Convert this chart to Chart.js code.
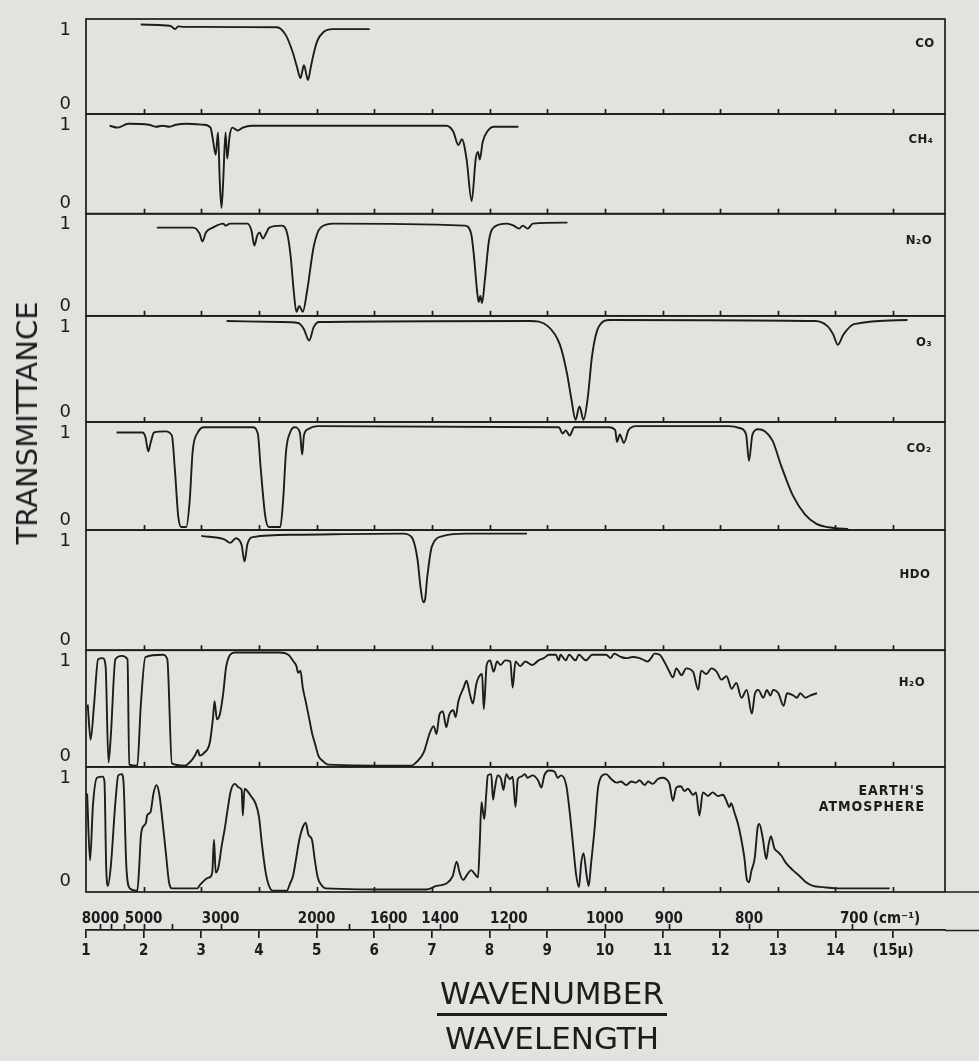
<!DOCTYPE html>
<html>
<head>
<meta charset="utf-8">
<script src="https://cdn.jsdelivr.net/npm/chart.js@4.4.1/dist/chart.umd.min.js"></script>
<style>
  html, body { margin: 0; padding: 0; background: #e2e2df; }
  #wrap { position: relative; width: 979px; height: 1061px; overflow: hidden; }
  #c { position: absolute; left: 0; top: 0; }
  #ylab { position: absolute; left: 27px; top: 423px; transform: translate(-50%, -50%) rotate(-90deg);
          font: 29px "DejaVu Sans", sans-serif; color: #1c1c1c; white-space: nowrap; }
  #frac { position: absolute; left: 552px; top: 976px; transform: translateX(-50%); text-align: center;
          font: 31px "DejaVu Sans", sans-serif; color: #1c1c1c; }
  #frac .num { line-height: 34px; padding: 0 3px 3px; border-bottom: 3px solid #1c1c1c; }
  #frac .den { line-height: 34px; padding-top: 5px; }
</style>
</head>
<body>
<div id="wrap">
  <canvas id="c" width="979" height="1061"></canvas>
  <div id="ylab">TRANSMITTANCE</div>
  <div id="frac"><div class="num">WAVENUMBER</div><div class="den">WAVELENGTH</div></div>
</div>
<script>
// ---------- axis ticks ----------
const wavelengthTicks  = [1,2,3,4,5,6,7,8,9,10,11,12,13,14,15];
const wavelengthLabels = ['1','2','3','4','5','6','7','8','9','10','11','12','13','14','(15µ)'];
const wavenumberTicks  = [8000,7000,6000,5000,4000,3000,2000,1800,1600,1400,1200,1000,900,800,700];
const wavenumberLabels = ['8000','','','5000','','3000','2000','','1600','1400','1200','1000','900','800','            700 (cm⁻¹)'];
const panelNames = ['CO','CH₄','N₂O','O₃','CO₂','HDO','H₂O',["EARTH'S","ATMOSPHERE"]];

// ---------- spectra: wavelength (µm) and transmittance (0..1) ----------
const coWl = [1.95,2.38,2.48,2.54,2.60,2.70,4.31,4.47,4.58,4.66,4.72,4.75,4.78,4.85,4.90,4.94,5.01,5.12,5.28,5.92];
const coT  = [0.96,0.95,0.94,0.91,0.94,0.935,0.93,0.84,0.67,0.50,0.38,0.45,0.52,0.36,0.50,0.62,0.78,0.88,0.91,0.91];

const ch4Wl = [1.41,1.55,1.73,2.09,2.21,2.33,2.45,2.56,2.74,3.04,3.16,3.20,3.25,3.29,3.32,3.35,3.38,3.42,3.45,3.49,3.54,3.63,3.72,3.87,7.25,7.37,7.46,7.52,7.60,7.69,7.76,7.80,7.83,7.88,7.96,8.08,8.50];
const ch4T  = [0.90,0.88,0.92,0.91,0.89,0.90,0.89,0.91,0.92,0.91,0.88,0.76,0.60,0.83,0.33,0.05,0.33,0.83,0.56,0.79,0.88,0.85,0.88,0.90,0.90,0.84,0.70,0.76,0.56,0.12,0.56,0.63,0.55,0.73,0.84,0.89,0.89];

const n2oWl = [2.23,2.86,2.97,3.02,3.08,3.20,3.38,3.42,3.50,3.80,3.87,3.92,3.97,4.01,4.07,4.13,4.18,4.39,4.49,4.55,4.60,4.65,4.70,4.76,4.84,4.95,5.07,5.30,7.57,7.68,7.73,7.78,7.81,7.84,7.87,7.92,7.99,8.09,8.30,8.42,8.51,8.58,8.66,8.75,9.35];
const n2oT  = [0.88,0.88,0.82,0.74,0.83,0.88,0.92,0.90,0.92,0.92,0.85,0.70,0.80,0.83,0.77,0.83,0.88,0.90,0.82,0.59,0.26,0.03,0.09,0.03,0.26,0.69,0.88,0.92,0.90,0.82,0.59,0.26,0.13,0.19,0.12,0.36,0.75,0.89,0.92,0.90,0.87,0.90,0.87,0.92,0.93];

const o3Wl = [3.44,4.37,4.68,4.78,4.87,4.95,5.04,8.70,9.01,9.22,9.34,9.42,9.49,9.56,9.63,9.70,9.78,9.89,10.09,13.65,13.86,13.96,14.04,14.14,14.32,15.25];
const o3T  = [0.97,0.96,0.95,0.89,0.78,0.91,0.96,0.97,0.92,0.74,0.47,0.21,0.01,0.14,0.01,0.21,0.64,0.91,0.98,0.97,0.92,0.84,0.74,0.84,0.94,0.98];

const co2Wl = [1.53,1.98,2.03,2.08,2.12,2.18,2.38,2.49,2.54,2.60,2.65,2.74,2.80,2.85,2.94,3.05,3.89,3.98,4.03,4.11,4.17,4.37,4.42,4.47,4.54,4.62,4.71,4.75,4.78,4.85,5.02,9.20,9.27,9.32,9.39,9.47,10.08,10.18,10.21,10.26,10.33,10.41,10.54,12.15,12.35,12.45,12.50,12.56,12.66,12.78,12.91,13.06,13.26,13.47,13.67,13.97,14.22];
const co2T  = [0.92,0.92,0.88,0.74,0.82,0.92,0.93,0.89,0.58,0.12,0.02,0.02,0.28,0.74,0.92,0.97,0.97,0.91,0.58,0.12,0.02,0.02,0.28,0.74,0.92,0.97,0.92,0.71,0.89,0.95,0.98,0.97,0.91,0.94,0.89,0.97,0.97,0.94,0.83,0.90,0.82,0.94,0.98,0.98,0.96,0.90,0.65,0.90,0.95,0.93,0.84,0.60,0.32,0.14,0.05,0.01,0.00];

const hdoWl = [3.00,3.40,3.50,3.60,3.70,3.75,3.80,3.90,4.60,6.50,6.65,6.75,6.80,6.85,6.88,6.92,7.00,7.20,7.60,8.65];
const hdoT  = [0.97,0.94,0.91,0.95,0.89,0.75,0.90,0.96,0.98,0.99,0.96,0.77,0.54,0.40,0.42,0.62,0.88,0.97,0.99,0.99];

const h2oWl = [1.03,1.08,1.14,1.21,1.29,1.34,1.39,1.43,1.51,1.62,1.72,1.75,1.89,1.95,2.03,2.33,2.41,2.49,2.71,2.82,2.90,2.94,2.97,3.04,3.15,3.20,3.23,3.27,3.32,3.38,3.43,3.50,3.58,4.02,4.35,4.51,4.60,4.65,4.68,4.72,4.76,4.81,4.87,4.92,4.98,5.03,5.11,5.20,6.64,6.75,6.86,6.97,7.03,7.08,7.13,7.19,7.25,7.30,7.37,7.41,7.46,7.55,7.60,7.66,7.71,7.77,7.81,7.87,7.90,7.95,8.01,8.07,8.13,8.19,8.27,8.36,8.40,8.45,8.53,8.62,8.74,8.85,8.94,9.03,9.15,9.20,9.23,9.32,9.38,9.49,9.55,9.67,9.78,10.02,10.10,10.16,10.28,10.37,10.48,10.60,10.69,10.74,10.80,10.86,10.95,11.03,11.12,11.18,11.24,11.33,11.41,11.53,11.62,11.67,11.76,11.85,11.94,12.02,12.11,12.20,12.28,12.37,12.46,12.55,12.60,12.66,12.75,12.81,12.87,12.92,13.01,13.10,13.16,13.27,13.33,13.39,13.48,13.56,13.68];
const h2oT  = [0.54,0.23,0.54,0.94,0.95,0.88,0.03,0.26,0.94,0.97,0.94,0.01,0.00,0.53,0.96,0.98,0.94,0.02,0.00,0.04,0.10,0.14,0.09,0.11,0.21,0.41,0.57,0.41,0.45,0.64,0.87,0.98,1.00,1.00,1.00,0.98,0.92,0.88,0.82,0.84,0.69,0.57,0.42,0.29,0.18,0.09,0.04,0.01,0.00,0.04,0.12,0.30,0.35,0.28,0.45,0.48,0.34,0.45,0.49,0.43,0.57,0.69,0.75,0.63,0.55,0.72,0.78,0.81,0.50,0.89,0.93,0.83,0.92,0.89,0.93,0.92,0.69,0.92,0.88,0.92,0.89,0.93,0.95,0.98,0.98,0.93,0.98,0.93,0.98,0.93,0.98,0.93,0.98,0.98,0.95,0.99,0.96,0.95,0.96,0.95,0.93,0.92,0.95,0.99,0.98,0.92,0.83,0.78,0.86,0.80,0.86,0.83,0.67,0.84,0.81,0.86,0.83,0.76,0.79,0.68,0.73,0.60,0.67,0.46,0.63,0.67,0.60,0.67,0.62,0.67,0.64,0.53,0.64,0.62,0.60,0.64,0.60,0.62,0.64];

const earthWl = [1.02,1.07,1.12,1.19,1.29,1.32,1.35,1.38,1.43,1.51,1.56,1.62,1.65,1.70,1.76,1.89,1.92,1.95,1.98,2.04,2.06,2.12,2.17,2.22,2.27,2.33,2.39,2.44,2.49,2.93,2.98,3.04,3.09,3.14,3.19,3.22,3.25,3.30,3.35,3.41,3.46,3.51,3.58,3.65,3.70,3.72,3.75,3.80,3.86,3.94,4.00,4.05,4.11,4.16,4.24,4.48,4.54,4.59,4.65,4.70,4.75,4.81,4.86,4.92,4.97,5.02,5.08,5.16,6.50,6.90,7.08,7.25,7.36,7.43,7.48,7.54,7.62,7.68,7.74,7.80,7.83,7.86,7.88,7.91,7.94,7.97,8.03,8.06,8.09,8.14,8.20,8.24,8.29,8.35,8.40,8.45,8.49,8.55,8.61,8.66,8.75,8.84,8.90,8.95,9.04,9.13,9.18,9.24,9.33,9.39,9.45,9.50,9.55,9.59,9.63,9.68,9.72,9.76,9.82,9.88,9.94,10.02,10.11,10.20,10.28,10.37,10.46,10.54,10.60,10.69,10.75,10.83,10.92,11.01,11.06,11.12,11.18,11.24,11.32,11.38,11.44,11.53,11.58,11.64,11.70,11.79,11.87,11.96,12.05,12.10,12.16,12.19,12.25,12.31,12.36,12.42,12.46,12.50,12.54,12.60,12.65,12.68,12.74,12.80,12.84,12.88,12.94,13.00,13.06,13.14,13.26,13.38,13.49,13.61,13.78,14.01,14.94];
const earthT  = [0.80,0.25,0.70,0.93,0.94,0.90,0.20,0.04,0.20,0.73,0.95,0.96,0.90,0.20,0.02,0.00,0.17,0.44,0.52,0.56,0.62,0.65,0.80,0.87,0.80,0.56,0.29,0.07,0.02,0.02,0.05,0.08,0.10,0.11,0.15,0.42,0.15,0.20,0.36,0.52,0.68,0.82,0.88,0.85,0.83,0.62,0.84,0.82,0.78,0.72,0.61,0.39,0.17,0.06,0.00,0.00,0.06,0.12,0.28,0.42,0.51,0.56,0.46,0.42,0.25,0.11,0.05,0.02,0.01,0.01,0.04,0.06,0.12,0.24,0.15,0.09,0.14,0.17,0.14,0.11,0.39,0.73,0.67,0.59,0.78,0.95,0.96,0.75,0.84,0.95,0.92,0.83,0.96,0.92,0.94,0.69,0.92,0.94,0.96,0.93,0.95,0.91,0.85,0.95,0.99,0.98,0.93,0.95,0.87,0.65,0.37,0.14,0.03,0.23,0.31,0.14,0.04,0.22,0.50,0.84,0.94,0.96,0.92,0.89,0.90,0.87,0.90,0.89,0.91,0.87,0.90,0.88,0.92,0.93,0.92,0.88,0.74,0.85,0.86,0.82,0.84,0.79,0.81,0.62,0.81,0.78,0.81,0.78,0.79,0.75,0.69,0.72,0.64,0.55,0.44,0.27,0.10,0.07,0.16,0.27,0.52,0.55,0.43,0.26,0.38,0.45,0.35,0.32,0.29,0.23,0.17,0.12,0.07,0.04,0.03,0.02,0.02];

// ---------- build chart ----------
const spectra = [[coWl,coT],[ch4Wl,ch4T],[n2oWl,n2oT],[o3Wl,o3T],[co2Wl,co2T],[hdoWl,hdoT],[h2oWl,h2oT],[earthWl,earthT]];
const panelWeights = [95,99.5,102,106,108,120,116.5,125];            // layout: panel heights
const labelPos = [[20,25],[24,26],[26,27],[21,27],[26,27],[30,45],[33,32],[20,25]]; // layout: label offset from right / top

const INK = '#1c1c1c';
const tickFont = { family: '"DejaVu Sans Condensed", "DejaVu Sans", sans-serif', size: 15, weight: 'bold' };

const datasets = spectra.map((s, i) => ({
  data: s[0].map((w, j) => ({ x: w, y: s[1][j] })),
  yAxisID: 'y' + i,
  xAxisID: 'x',
  borderColor: INK,
  borderWidth: 1.9,
  pointRadius: 0,
  fill: false,
  cubicInterpolationMode: 'monotone'
}));

const scales = {
  x: {
    type: 'linear', position: 'bottom', min: 1, max: 15.9, weight: 1,
    afterBuildTicks: sc => { sc.ticks = wavelengthTicks.map(v => ({ value: v })); },
    afterFit: sc => { sc.height = 32; },
    border: { display: true, color: INK, width: 1.7 },
    grid: { display: true, drawOnChartArea: false, drawTicks: true, tickLength: 8, color: INK, lineWidth: 1.7 },
    ticks: { color: INK, font: tickFont, padding: 4, maxRotation: 0, minRotation: 0, autoSkip: false,
             callback: (v) => wavelengthLabels[wavelengthTicks.indexOf(v)] }
  },
  xw: {
    type: 'linear', position: 'bottom', min: 1, max: 15.9, weight: 0,
    afterBuildTicks: sc => { sc.ticks = wavenumberTicks.map(n => ({ value: 10000 / n })); },
    afterFit: sc => { sc.height = 38; },
    border: { display: false },
    grid: { display: false },
    ticks: { color: INK, font: tickFont, padding: 10, maxRotation: 0, minRotation: 0, autoSkip: false,
             callback: (v) => { const k = wavenumberTicks.findIndex(n => Math.abs(10000 / n - v) < 1e-6); return k >= 0 ? wavenumberLabels[k] : ''; } }
  }
};
panelWeights.forEach((w, i) => {
  scales['y' + i] = {
    type: 'linear', position: 'left', stack: 'panels', stackWeight: w, weight: 10 - i,
    min: -0.01, max: 1.02,
    afterBuildTicks: sc => { sc.ticks = [{ value: 0 }, { value: 1 }]; },
    afterFit: sc => { sc.width = 30; sc.paddingTop = 0; sc.paddingBottom = 0; },
    border: { display: false },
    grid: { display: false },
    ticks: { color: INK, padding: 7,
             font: { family: '"DejaVu Sans", sans-serif', size: 18, lineHeight: 1 },
             callback: (v) => v === 0 ? ['0', ''] : (v === 1 ? ['', '1'] : '') }
  };
});

const framePlugin = {
  id: 'frame',
  afterDatasetsDraw(chart) {
    const ctx = chart.ctx, ca = chart.chartArea, xs = chart.scales.x, xw = chart.scales.xw;
    ctx.save();
    ctx.strokeStyle = INK; ctx.fillStyle = INK; ctx.lineWidth = 1.7;
    panelNames.forEach((name, i) => {
      const ys = chart.scales['y' + i];
      ctx.strokeRect(ca.left, ys.top, ca.right - ca.left, ys.bottom - ys.top);
      ctx.beginPath();
      wavelengthTicks.slice(1).forEach(v => {
        const px = Math.round(xs.getPixelForValue(v)) + 0.5;
        ctx.moveTo(px, ys.bottom); ctx.lineTo(px, ys.bottom - 5);
      });
      ctx.stroke();
      ctx.textBaseline = 'middle';
      if (Array.isArray(name)) {
        ctx.font = 'bold 14px "DejaVu Sans Condensed", "DejaVu Sans", sans-serif';
        ctx.letterSpacing = '1px';
        ctx.textAlign = 'right';
        name.forEach((t, k) => ctx.fillText(t, ca.right - labelPos[i][0], ys.top + labelPos[i][1] + k * 16));
      } else {
        ctx.font = 'bold 13px "DejaVu Sans Condensed", "DejaVu Sans", sans-serif';
        ctx.letterSpacing = '0.5px';
        ctx.textAlign = 'center';
        ctx.fillText(name, ca.right - labelPos[i][0], ys.top + labelPos[i][1]);
      }
    });
    ctx.letterSpacing = '0px';
    // bottom lines run on past the frame, as in the print
    ctx.beginPath();
    ctx.moveTo(ca.right, ca.bottom); ctx.lineTo(chart.width, ca.bottom);
    ctx.moveTo(ca.right, xs.top + 0.5); ctx.lineTo(chart.width, xs.top + 0.5);
    ctx.stroke();
    // wavenumber tick marks rising from the wavelength axis line
    ctx.beginPath();
    wavenumberTicks.forEach(n => {
      const px = Math.round(xw.getPixelForValue(10000 / n)) + 0.5;
      ctx.moveTo(px, xs.top); ctx.lineTo(px, xs.top - 6);
    });
    ctx.stroke();
    ctx.restore();
  }
};

new Chart(document.getElementById('c'), {
  type: 'line',
  data: { datasets },
  options: {
    responsive: false, animation: false,
    layout: { padding: { left: 56, right: 34, top: 19, bottom: 99 } },
    plugins: { legend: { display: false }, tooltip: { enabled: false } },
    scales
  },
  plugins: [framePlugin]
});
</script>
</body>
</html>
